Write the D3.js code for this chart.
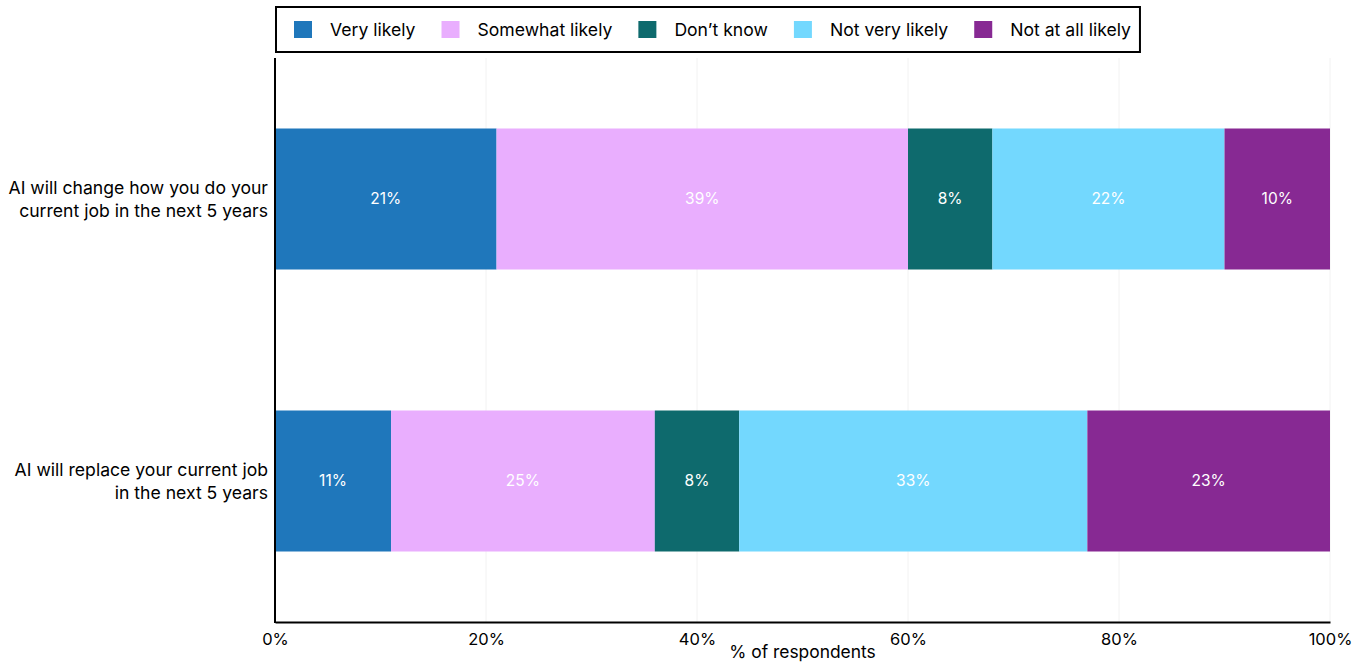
<!DOCTYPE html>
<html>
<head>
<meta charset="utf-8">
<script src="https://cdn.jsdelivr.net/npm/d3@7"></script>
<style>
  body { margin: 0; background: #fff; }
  svg { display: block; font-family: Inter, "Noto Sans", sans-serif; }
</style>
</head>
<body>
<svg id="chart" width="1365" height="662"></svg>
<script>
//========================
//   Chart data
//========================
var questions = [
  ["AI will change how you do your", "current job in the next 5 years"],
  ["AI will replace your current job", "in the next 5 years"]
];
var answers = ["Very likely", "Somewhat likely", "Don\u2019t know", "Not very likely", "Not at all likely"];
var answerColors = ["#1f77bb", "#e9aefe", "#0e6a6d", "#73d8fe", "#872993"];
var changeJob = [21, 39, 8, 22, 10];
var replaceJob = [11, 25, 8, 33, 23];
var xTicks = [0, 20, 40, 60, 80, 100];

var margin = {top: 58, right: 35, bottom: 40, left: 275};
var width = 1365, height = 662;

var svg = d3.select("#chart");

//Scales
var x = d3.scaleLinear().domain([0, 100]).range([margin.left, width - margin.right]);
var y = d3.scaleBand().domain([0, 1]).range([margin.top, height - margin.bottom])
  .paddingInner(0.5).paddingOuter(0.25);
var color = d3.scaleOrdinal().domain(answers).range(answerColors);

//Build stacked rows from the arrays
var rows = [changeJob, replaceJob].map(function(vals, i) {
  var row = {idx: i};
  answers.forEach(function(a, j) { row[a] = vals[j]; });
  return row;
});
var series = d3.stack().keys(answers)(rows);

//Gridlines
svg.append("g")
  .selectAll("line")
  .data(xTicks.slice(1))
  .join("line")
  .attr("x1", function(d) { return x(d); })
  .attr("x2", function(d) { return x(d); })
  .attr("y1", margin.top)
  .attr("y2", height - margin.bottom)
  .attr("stroke", "#f2f2f2")
  .attr("stroke-width", 1);

//Bars
var groups = svg.append("g")
  .selectAll("g")
  .data(series)
  .join("g")
  .attr("fill", function(d) { return color(d.key); });

groups.selectAll("rect")
  .data(function(d) { return d; })
  .join("rect")
  .attr("x", function(d) { return x(d[0]); })
  .attr("y", function(d) { return y(d.data.idx); })
  .attr("width", function(d) { return x(d[1]) - x(d[0]); })
  .attr("height", y.bandwidth());

//Value labels
groups.selectAll("text")
  .data(function(d) { return d; })
  .join("text")
  .attr("x", function(d) { return (x(d[0]) + x(d[1])) / 2; })
  .attr("y", function(d) { return y(d.data.idx) + y.bandwidth() / 2; })
  .attr("dy", "0.35em")
  .attr("text-anchor", "middle")
  .attr("fill", "#fff")
  .attr("font-size", 15.5)
  .text(function(d) { return (d[1] - d[0]) + "%"; });

//X axis
var xAxis = svg.append("g")
  .attr("transform", "translate(0," + (height - margin.bottom) + ")")
  .call(d3.axisBottom(x).tickValues(xTicks).tickSize(0).tickPadding(11)
    .tickFormat(function(d) { return d + "%"; }));
xAxis.select(".domain").attr("stroke", "#000").attr("stroke-width", 2);
xAxis.selectAll("text").attr("font-size", 16.5).attr("fill", "#000")
  .attr("font-family", "Inter, 'Noto Sans', sans-serif");

svg.append("text")
  .attr("x", (x(0) + x(100)) / 2)
  .attr("y", 658)
  .attr("text-anchor", "middle")
  .attr("font-size", 17.4)
  .text("% of respondents");

//Y axis line and labels
svg.append("line")
  .attr("x1", margin.left).attr("x2", margin.left)
  .attr("y1", margin.top).attr("y2", height - margin.bottom + 1)
  .attr("stroke", "#000").attr("stroke-width", 2);

svg.append("g")
  .selectAll("text")
  .data(questions)
  .join("text")
  .attr("x", margin.left - 7)
  .attr("y", function(d, i) { return y(i) + y.bandwidth() / 2; })
  .attr("text-anchor", "end")
  .attr("font-size", 17.6)
  .attr("fill", "#000")
  .selectAll("tspan")
  .data(function(d) { return d; })
  .join("tspan")
  .attr("x", margin.left - 7)
  .attr("dy", function(d, i) { return i === 0 ? "-0.3em" : "1.3em"; })
  .text(function(d) { return d; });

//========================
//   Legend
//========================
var legend = svg.append("g");
var legendBox = legend.append("rect")
  .attr("x", 276).attr("y", 7).attr("height", 45)
  .attr("fill", "#fff").attr("stroke", "#000").attr("stroke-width", 2);

var lx = 294;
answers.forEach(function(a) {
  legend.append("rect")
    .attr("x", lx).attr("y", 21).attr("width", 18).attr("height", 17)
    .attr("fill", color(a));
  var t = legend.append("text")
    .attr("x", lx + 36).attr("y", 30).attr("dy", "0.35em")
    .attr("font-size", 17.6)
    .text(a);
  lx += 36 + t.node().getComputedTextLength() + 26;
});
legendBox.attr("width", lx - 26 + 9 - 276);
</script>
</body>
</html>
